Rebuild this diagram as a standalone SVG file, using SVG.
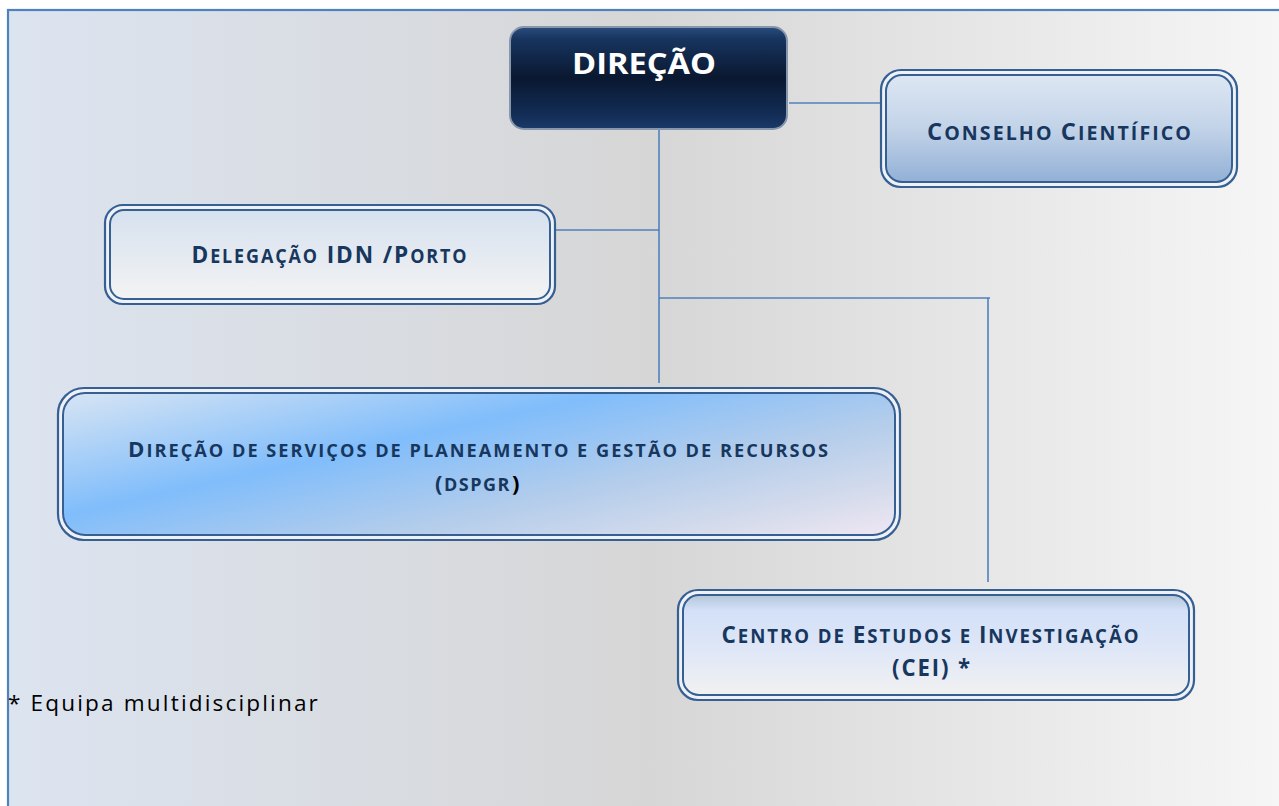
<svg xmlns="http://www.w3.org/2000/svg" width="1279" height="806" viewBox="0 0 1279 806">
  <defs>
    <linearGradient id="bg" x1="0" y1="0" x2="1" y2="0">
      <stop offset="0" stop-color="#dce4f0"/>
      <stop offset="0.5" stop-color="#d6d6d6"/>
      <stop offset="1" stop-color="#f6f6f6"/>
    </linearGradient>
    <linearGradient id="gDir" x1="0" y1="0" x2="0" y2="1">
      <stop offset="0" stop-color="#2a4d7c"/>
      <stop offset="0.12" stop-color="#17345f"/>
      <stop offset="0.5" stop-color="#0a1830"/>
      <stop offset="0.85" stop-color="#122c55"/>
      <stop offset="1" stop-color="#1a3a68"/>
    </linearGradient>
    <linearGradient id="gCons" x1="0" y1="0" x2="0" y2="1">
      <stop offset="0" stop-color="#dde7f3"/>
      <stop offset="0.5" stop-color="#c2d3e8"/>
      <stop offset="1" stop-color="#92b0d6"/>
    </linearGradient>
    <linearGradient id="gDel" x1="0" y1="0" x2="0" y2="1">
      <stop offset="0" stop-color="#d6e1ef"/>
      <stop offset="1" stop-color="#f3f3f3"/>
    </linearGradient>
    <linearGradient id="gDsp" gradientUnits="userSpaceOnUse" x1="86" y1="380" x2="160" y2="707">
      <stop offset="0" stop-color="#dde7f3"/>
      <stop offset="0.38" stop-color="#80bdfb"/>
      <stop offset="0.65" stop-color="#b4cdeb"/>
      <stop offset="0.85" stop-color="#d6dcec"/>
      <stop offset="1" stop-color="#f3e8f4"/>
    </linearGradient>
    <linearGradient id="gCei" x1="0" y1="0" x2="0" y2="1">
      <stop offset="0" stop-color="#b4c6d8"/>
      <stop offset="0.15" stop-color="#d3e0f8"/>
      <stop offset="0.55" stop-color="#dfe7f7"/>
      <stop offset="1" stop-color="#f1f1f1"/>
    </linearGradient>
    <style>
      .lbl { font-family: "Open Sans", "Liberation Sans", sans-serif; font-weight: bold; fill: #17375e; text-anchor: middle; letter-spacing: 2px; }
      .sc { font-size: 19px; }
      .conn { stroke: #4f81bd; stroke-width: 1.6; fill: none; }
      .outer { fill: #eef2f8; stroke: #365f92; stroke-width: 2.2; }
      .inner { stroke: #365f92; stroke-width: 2; }
    </style>
  </defs>

  <rect x="0" y="0" width="1279" height="806" fill="#ffffff"/>
  <rect x="8" y="10" width="1280" height="800" fill="url(#bg)" stroke="#4f81bd" stroke-width="2.2"/>

  <g id="connectors">
    <line class="conn" x1="659" y1="129" x2="659" y2="383"/>
    <line class="conn" x1="789" y1="103" x2="881" y2="103"/>
    <line class="conn" x1="553" y1="230" x2="659" y2="230"/>
    <line class="conn" x1="659" y1="298" x2="990" y2="298"/>
    <line class="conn" x1="988" y1="298" x2="988" y2="582"/>
  </g>

  <g id="direcao">
    <rect x="510" y="27" width="277" height="102" rx="14" fill="url(#gDir)" stroke="#8796ab" stroke-width="2"/>
    <text x="644" y="74" font-family="'Open Sans', 'Liberation Sans', sans-serif" font-weight="bold" font-size="28" fill="#ffffff" text-anchor="middle" textLength="144" lengthAdjust="spacingAndGlyphs">DIREÇÃO</text>
  </g>

  <g id="conselho">
    <rect class="outer" x="881" y="70" width="356" height="117" rx="20" stroke="#1f3b63"/>
    <rect class="inner" x="886" y="75" width="346" height="107" rx="16" fill="url(#gCons)" stroke="#1f3b63"/>
    <text class="lbl" x="1060" y="140" font-size="23" textLength="266" lengthAdjust="spacingAndGlyphs">C<tspan class="sc">ONSELHO </tspan>C<tspan class="sc">IENTÍFICO</tspan></text>
  </g>

  <g id="delegacao">
    <rect class="outer" x="105" y="205" width="450" height="99" rx="18"/>
    <rect class="inner" x="110" y="210" width="440" height="89" rx="14" fill="url(#gDel)"/>
    <text class="lbl" x="330" y="263" font-size="24" textLength="277" lengthAdjust="spacingAndGlyphs">D<tspan class="sc" style="font-size:19px">ELEGAÇÃO</tspan> IDN /P<tspan class="sc" style="font-size:19px">ORTO</tspan></text>
  </g>

  <g id="dspgr">
    <rect class="outer" x="58" y="388" width="842" height="152" rx="26"/>
    <rect class="inner" x="63" y="393" width="832" height="142" rx="22" fill="url(#gDsp)"/>
    <text class="lbl" x="479" y="457" font-size="22" textLength="702" lengthAdjust="spacingAndGlyphs">D<tspan class="sc" style="font-size:18px">IREÇÃO DE SERVIÇOS DE PLANEAMENTO E GESTÃO DE RECURSOS</tspan></text>
    <text class="lbl" x="478" y="491" font-size="22" style="letter-spacing:1.5px">(<tspan class="sc" style="font-size:18px">DSPGR</tspan><tspan fill="#000000" dx="1">)</tspan></text>
  </g>

  <g id="cei">
    <rect class="outer" x="678" y="590" width="516" height="110" rx="20"/>
    <rect class="inner" x="683" y="595" width="506" height="100" rx="16" fill="url(#gCei)"/>
    <text class="lbl" x="931" y="643" font-size="23" textLength="419" lengthAdjust="spacingAndGlyphs">C<tspan class="sc">ENTRO DE </tspan>E<tspan class="sc">STUDOS E </tspan>I<tspan class="sc">NVESTIGAÇÃO</tspan></text>
    <text class="lbl" x="932" y="676" font-size="23" textLength="80" lengthAdjust="spacingAndGlyphs">(CEI) *</text>
  </g>

  <text x="8" y="711" font-family="'Open Sans', 'Liberation Sans', sans-serif" font-size="21" letter-spacing="2" fill="#000000" textLength="312" lengthAdjust="spacingAndGlyphs">* Equipa multidisciplinar</text>
</svg>
